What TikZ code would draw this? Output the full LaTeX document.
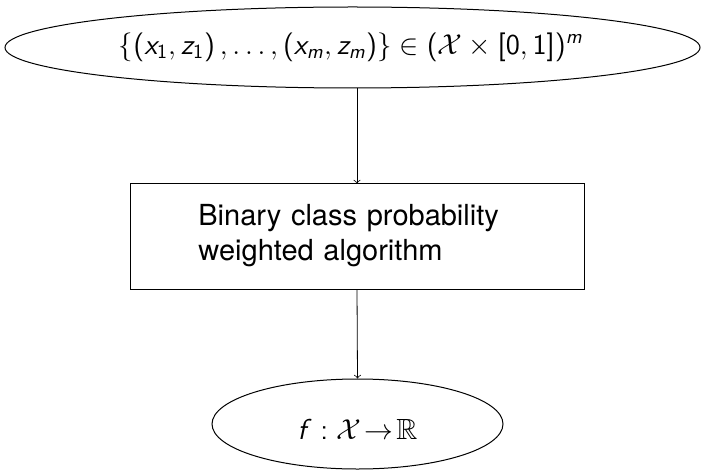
\documentclass[tikz,border=0pt]{standalone}
\usepackage{amsmath,amssymb}
\usepackage[no-math]{fontspec}
\newfontfamily\helv{TeX Gyre Heros}
\usetikzlibrary{shapes.geometric}
% sans-serif math in the style of beamer
\SetSymbolFont{operators}{normal}{OT1}{cmss}{m}{n}
\DeclareSymbolFont{sfslant}{OT1}{cmss}{m}{sl}
\DeclareMathSymbol{x}{\mathalpha}{sfslant}{`x}
\DeclareMathSymbol{z}{\mathalpha}{sfslant}{`z}
\DeclareMathSymbol{m}{\mathalpha}{sfslant}{`m}
\DeclareMathSymbol{f}{\mathalpha}{sfslant}{`f}
\tikzset{
  px/.style={x=0.5pt,y=-0.5pt},
  ellnode/.style={ellipse,draw,line width=0.5pt,inner sep=0pt},
  boxnode/.style={rectangle,draw,line width=0.5pt,inner sep=0pt},
  lbl/.style={inner sep=0pt},
  conn/.style={->,line width=0.4pt},
}
\begin{document}
\begin{tikzpicture}[px]
\useasboundingbox (0,0) rectangle (705,470);
\fontsize{14.6}{17.5}\selectfont
\node[ellnode,minimum width=347.5pt,minimum height=40.5pt] (in) at (352.5,47.5) {};
\node[lbl] (intext) at (351,47)
  {$\{(x_1,z_1)\,,\ldots,(x_m,z_m)\}\in(\mathcal{X}\times[0,1])^m$};
\node[boxnode,minimum width=227pt,minimum height=52.5pt] (alg) at (357,236.5) {};
\node[lbl,anchor=west,text width=159pt,align=left] (algtext) at (198,236)
  {\helv\fontsize{14.5}{17.5}\selectfont Binary class probability\\weighted algorithm};
\node[ellnode,minimum width=145.5pt,minimum height=45pt] (out) at (357.5,424) {};
\node[lbl] (outtext) at (357.5,429) {$f:\mathcal{X}\!\to\!\mathbb{R}$};
\draw[conn] (in.south -| alg.north) -- (alg.north);
\draw[conn] (alg.south) -- (out.north);
\end{tikzpicture}
\end{document}
